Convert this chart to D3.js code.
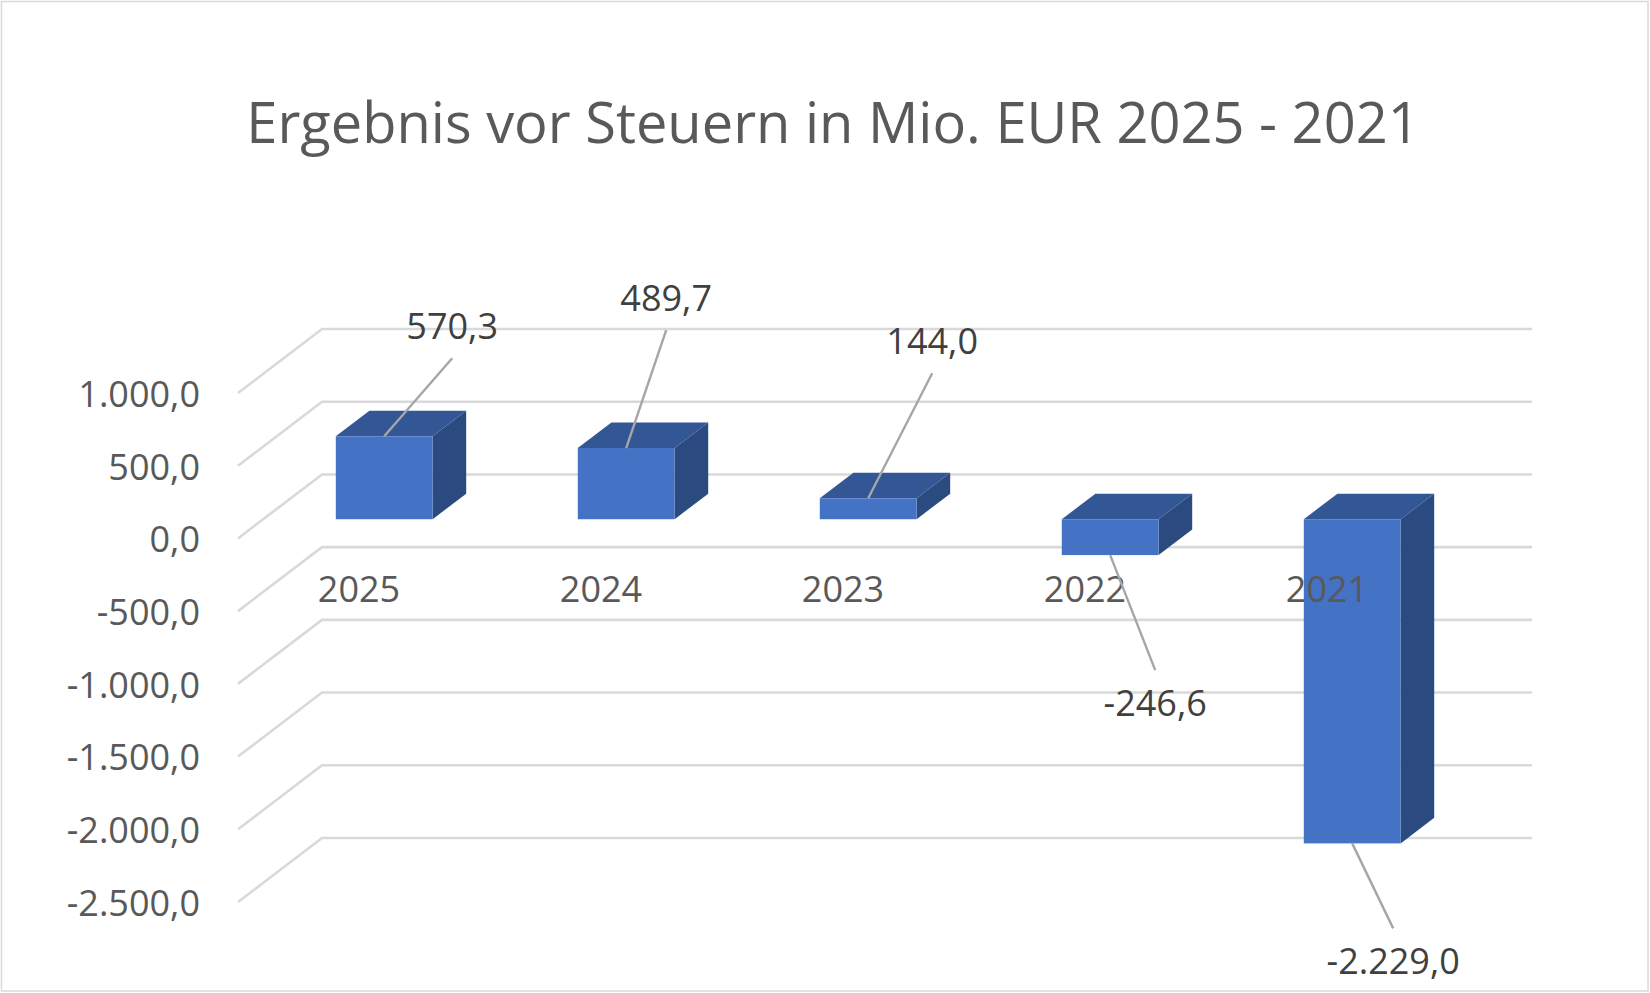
<!DOCTYPE html>
<html>
<head>
<meta charset="utf-8">
<script src="https://cdnjs.cloudflare.com/ajax/libs/d3/7.8.5/d3.min.js"></script>
<style>
    body { margin: 0; background: #fff; }
    svg { display: block; }
</style>
</head>
<body>
<svg class="ebtChart"></svg>
<script>
const years = ["2025", "2024", "2023", "2022", "2021"];
const values = [570.3, 489.7, 144.0, -246.6, -2229.0];
const yDomain = [-2500, 1000];
const titleText = "Ergebnis vor Steuern in Mio. EUR 2025 - 2021";

// where each data label was dragged to, relative to the bar end (px)
const labelOffsets = [
    {dx: 68, dy: -97},
    {dx: 40, dy: -137},
    {dx: 64, dy: -144},
    {dx: 45, dy: 161},
    {dx: 41, dy: 131}
];

const W = 1650, H = 993;
const depthX = 84, depthY = -64;      // projection of the full floor depth
const barZ0 = 0.3, barZ1 = 0.7;       // bar sits in the middle of the depth
const font = "'Open Sans', 'Noto Sans', sans-serif";

const de = d3.formatLocale({decimal: ",", thousands: ".", grouping: [3], currency: ["", " €"], minus: "-"});
const fmt = de.format(",.1f");

const svg = d3.select(".ebtChart")
    .attr("width", W)
    .attr("height", H);

svg.append("rect")
    .attr("x", 1.5).attr("y", 1.5)
    .attr("width", W - 3.5).attr("height", H - 3.5)
    .attr("fill", "#fff")
    .attr("stroke", "#d9d9d9")
    .attr("stroke-width", 1.5);

svg.append("text")
    .attr("x", 833)
    .attr("y", 143)
    .attr("text-anchor", "middle")
    .style("font-family", font)
    .style("font-size", "56px")
    .style("fill", "#595959")
    .text(titleText);

// front plane scales, the back wall is shifted by depthX/depthY
const x = d3.scaleBand()
    .domain(years)
    .range([238, 1448])
    .paddingInner(0.6)
    .paddingOuter(0.3);

const y = d3.scaleLinear()
    .domain(yDomain)
    .range([902, 393]);

function proj(px, py, z) {
    return [px + z * depthX, py + z * depthY];
}

// gridlines: side wall diagonal + back wall
const ticks = y.ticks(7);
svg.append("g")
    .selectAll("polyline")
    .data(ticks)
    .enter().append("polyline")
    .attr("points", d => {
        const a = proj(x.range()[0], y(d), 0);
        const b = proj(x.range()[0], y(d), 1);
        const c = proj(x.range()[1], y(d), 1);
        return [a, b, c].map(p => p.join(",")).join(" ");
    })
    .attr("fill", "none")
    .attr("stroke", "#d9d9d9")
    .attr("stroke-width", 2.6);

// Y axis labels
const yAxis = svg.append("g")
    .attr("transform", `translate(${x.range()[0]},0)`)
    .call(d3.axisLeft(y).tickValues(ticks).tickSize(0).tickPadding(38).tickFormat(fmt));
yAxis.select(".domain").remove();
yAxis.selectAll(".tick text")
    .attr("dy", "0.37em")
    .style("font-family", font)
    .style("font-size", "36px")
    .style("fill", "#595959");

// bars as boxes
const bars = svg.append("g")
    .selectAll("g")
    .data(values.map((v, i) => ({year: years[i], value: v, i: i})))
    .enter().append("g");

function poly(pts) {
    return pts.map(p => p.join(",")).join(" ");
}

bars.each(function(d) {
    const g = d3.select(this);
    const x0 = x(d.year), x1 = x(d.year) + x.bandwidth();
    const yTop = y(Math.max(d.value, 0)), yBot = y(Math.min(d.value, 0));

    // right side
    g.append("polygon")
        .attr("points", poly([proj(x1, yTop, barZ0), proj(x1, yTop, barZ1), proj(x1, yBot, barZ1), proj(x1, yBot, barZ0)]))
        .attr("fill", "#2b4a80");
    // top
    g.append("polygon")
        .attr("points", poly([proj(x0, yTop, barZ0), proj(x0, yTop, barZ1), proj(x1, yTop, barZ1), proj(x1, yTop, barZ0)]))
        .attr("fill", "#335794");
    // front
    const f0 = proj(x0, yTop, barZ0), f1 = proj(x1, yBot, barZ0);
    g.append("rect")
        .attr("x", f0[0]).attr("y", f0[1])
        .attr("width", f1[0] - f0[0])
        .attr("height", f1[1] - f0[1])
        .attr("fill", "#4472c4");
});

// category labels
svg.append("g")
    .selectAll("text")
    .data(years)
    .enter().append("text")
    .attr("x", d => x(d) + x.bandwidth() / 2)
    .attr("y", 602)
    .attr("text-anchor", "middle")
    .style("font-family", font)
    .style("font-size", "36px")
    .style("fill", "#595959")
    .text(d => d);

// data labels with leader lines
const anchors = values.map((v, i) => proj(x(years[i]) + x.bandwidth() / 2, y(v), barZ0));

svg.append("g")
    .selectAll("line")
    .data(values)
    .enter().append("line")
    .attr("x1", (d, i) => anchors[i][0])
    .attr("y1", (d, i) => anchors[i][1])
    .attr("x2", (d, i) => anchors[i][0] + labelOffsets[i].dx)
    .attr("y2", (d, i) => anchors[i][1] + labelOffsets[i].dy + (d >= 0 ? 19 : -46))
    .attr("stroke", "#a6a6a6")
    .attr("stroke-width", 2.4);

svg.append("g")
    .selectAll("text")
    .data(values)
    .enter().append("text")
    .attr("x", (d, i) => anchors[i][0] + labelOffsets[i].dx)
    .attr("y", (d, i) => anchors[i][1] + labelOffsets[i].dy)
    .attr("text-anchor", "middle")
    .style("font-family", font)
    .style("font-size", "36px")
    .style("fill", "#404040")
    .text(d => fmt(d));
</script>
</body>
</html>
